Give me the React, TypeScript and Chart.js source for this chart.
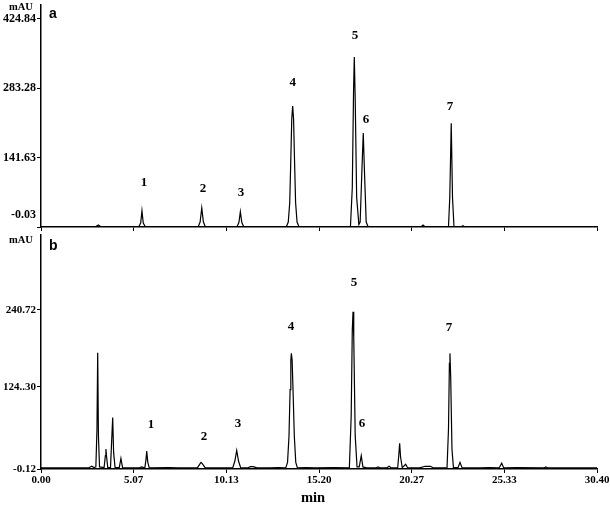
import React, { useEffect, useRef } from 'react';
import { Chart, registerables } from 'chart.js';

Chart.register(...registerables);

// ---- axis ticks ----
const xTicks = [0, 5.07, 10.13, 15.2, 20.27, 25.33, 30.4];
const xTickLabels = ['0.00', '5.07', '10.13', '15.20', '20.27', '25.33', '30.40'];
const yTicksA = [-0.03, 141.63, 283.28, 424.84];
const yTickLabelsA = ['-0.03', '141.63', '283.28', '424.84'];
const yTicksB = [-0.12, 124.3, 240.72];
const yTickLabelsB = ['-0.12', '124..30', '240.72'];

// ---- chromatogram a (standards) ----
const timesA = [
  0, 3.0, 3.13, 3.26,
  5.35, 5.45, 5.52, 5.59, 5.7,
  8.6, 8.7, 8.79, 8.88, 8.98,
  10.72, 10.82, 10.9, 10.98, 11.08,
  13.42, 13.52, 13.6, 13.66, 13.71, 13.76, 13.81, 13.86, 13.92, 14.0, 14.1,
  16.92, 17.02, 17.09, 17.13, 17.18, 17.26, 17.38,
  17.45, 17.55, 17.62, 17.68, 17.78, 17.88,
  20.8, 20.89, 20.98,
  22.28, 22.35, 22.43, 22.5, 22.58,
  23.0, 23.07, 23.14, 30.4,
];
const signalA = [
  1, 1, 4, 1,
  1, 8, 33, 8, 1,
  1, 10, 39, 10, 1,
  1, 9, 31, 9, 1,
  1, 10, 50, 140, 220, 247, 220, 140, 50, 10, 1,
  1, 80, 280, 347, 260, 60, 5,
  10, 120, 192, 120, 10, 1,
  1, 4, 1,
  1, 60, 212, 60, 1,
  1, 2.5, 1, 1,
];

// ---- chromatogram b (sample) ----
const timesB = [
  0, 2.6, 2.77, 2.9,
  3.0, 3.06, 3.1, 3.14, 3.2,
  3.45, 3.52, 3.55, 3.58, 3.65,
  3.8, 3.86, 3.92, 3.97, 4.05,
  4.28, 4.37, 4.46,
  5.0, 5.4, 5.51, 5.6,
  5.68, 5.74, 5.78, 5.84, 5.92,
  7.0, 7.5,
  8.55, 8.7, 8.75, 8.82, 8.98,
  10.48, 10.6, 10.7, 10.8, 10.92,
  11.3, 11.45, 11.6, 11.8,
  12.5, 13.0, 13.3,
  13.38, 13.48, 13.56, 13.62, 13.66, 13.69, 13.73, 13.78, 13.85, 13.93, 14.02,
  14.5, 15.0, 16.0,
  16.86, 16.96, 17.02, 17.06, 17.1, 17.18, 17.28,
  17.4, 17.51, 17.6,
  17.8, 18.3, 18.43, 18.55,
  18.9, 19.03, 19.16,
  19.5, 19.56, 19.61, 19.66, 19.75, 19.94, 20.05,
  20.7, 21.0, 21.3, 21.45,
  22.2, 22.28, 22.33, 22.36, 22.4, 22.47, 22.55,
  22.8, 22.91, 23.02,
  24.0, 24.5, 25.05, 25.19, 25.3,
  26.0, 27.5, 27.6, 27.7,
  28.5, 30.4,
];
const signalB = [
  1.5, 1.5, 4, 2,
  3, 60, 176, 50, 3,
  2, 20, 30, 20, 2,
  2, 40, 78, 25, 2,
  2, 16, 2,
  1.5, 2, 3, 2,
  2, 14, 27, 10, 1.5,
  2, 1.5,
  1.5, 8, 10, 8, 1.5,
  1.5, 12, 28, 12, 1.5,
  1.5, 3.5, 3.5, 1.5,
  1.5, 2, 1.5,
  1.5, 10, 50, 120, 165, 175, 165, 120, 50, 10, 1.5,
  2, 1.5, 2,
  1.5, 80, 210, 238, 200, 50, 3,
  3, 20, 3,
  1.5, 1.5, 3, 1.5,
  1.5, 4, 1.5,
  1.5, 20, 39, 18, 2, 7, 1.5,
  1.5, 4, 4, 1.5,
  1.5, 60, 160, 175, 140, 30, 2,
  2, 10, 2,
  1.5, 2, 1.5, 8.6, 1.5,
  2, 1.5, 3, 1.5,
  1.5, 1.5,
];

// ---- peak labels ----
const peakNames = ['1', '2', '3', '4', '5', '6', '7'];
const peakLabelTimesA = [5.63, 8.86, 10.94, 13.76, 17.17, 17.77, 22.36];
const peakLabelValuesA = [90, 77.6, 69.4, 294, 390, 218.5, 245];
const peakLabelTimesB = [6.01, 8.91, 10.77, 13.67, 17.12, 17.55, 22.31];
const peakLabelValuesB = [66.6, 48.5, 68.2, 215, 281.7, 68.2, 213.6];

const SERIF = '"Liberation Serif", "Times New Roman", serif';
const SANS = '"Liberation Sans", Arial, sans-serif';

type PanelSpec = {
  times: number[];
  signal: number[];
  yTicks: number[];
  yTickLabels: string[];
  yMin: number;
  yMax: number;
  yFontSize: number;
  labelTimes: number[];
  labelValues: number[];
  height: number;
  xAxisHeight: number;
  showXLabels: boolean;
  letter: string;
  letterY: number;
  mauY: number;
  showTitle: boolean;
};

function makeChart(canvas: HTMLCanvasElement, p: PanelSpec) {
  const plugin = {
    id: 'annot' + p.letter,
    afterDraw(chart: any) {
      const { ctx } = chart;
      const x = chart.scales.x;
      const y = chart.scales.y;
      ctx.save();
      ctx.fillStyle = '#000';
      ctx.textAlign = 'center';
      ctx.textBaseline = 'middle';
      ctx.font = 'bold 13px ' + SERIF;
      peakNames.forEach((n, i) => {
        ctx.fillText(n, x.getPixelForValue(p.labelTimes[i]), y.getPixelForValue(p.labelValues[i]));
      });
      ctx.font = 'bold 10.5px ' + SERIF;
      ctx.fillText('mAU', 21, p.mauY);
      ctx.textAlign = 'left';
      ctx.textBaseline = 'alphabetic';
      ctx.font = 'bold 14px ' + SANS;
      ctx.fillText(p.letter, 49, p.letterY);
      if (p.showTitle) {
        ctx.textAlign = 'center';
        ctx.textBaseline = 'middle';
        ctx.font = 'bold 14.5px ' + SERIF;
        ctx.fillText('min', 313, 268);
      }
      ctx.restore();
    },
  };

  return new Chart(canvas, {
    type: 'line',
    data: {
      datasets: [
        {
          data: p.times.map((t, i) => ({ x: t, y: p.signal[i] })),
          borderColor: '#000',
          borderWidth: 1.2,
          pointRadius: 0,
          tension: 0,
          fill: false,
        },
      ],
    },
    options: {
      responsive: false,
      animation: false,
      devicePixelRatio: 1,
      events: [],
      layout: { padding: { left: 0, right: 13, top: 5, bottom: 0 } },
      plugins: { legend: { display: false }, tooltip: { enabled: false } },
      scales: {
        x: {
          type: 'linear',
          min: 0,
          max: 30.4,
          border: { display: true, color: '#000', width: 1.5 },
          grid: { display: true, drawOnChartArea: false, drawTicks: true, tickLength: 4, color: '#000', lineWidth: 1 },
          ticks: {
            autoSkip: false,
            maxRotation: 0,
            padding: 1,
            color: '#000',
            font: { family: SERIF, size: 11, weight: 'bold' },
            callback: (_v: any, i: number) => (p.showXLabels ? xTickLabels[i] : ''),
          },
          afterBuildTicks: (s: any) => {
            s.ticks = xTicks.map((v) => ({ value: v }));
          },
          afterFit: (s: any) => {
            s.height = p.xAxisHeight;
            s.paddingLeft = 0;
            s.paddingRight = 0;
          },
        },
        y: {
          type: 'linear',
          min: p.yMin,
          max: p.yMax,
          border: { display: true, color: '#000', width: 1.5 },
          grid: { display: true, drawOnChartArea: false, drawTicks: true, tickLength: 4, color: '#000', lineWidth: 1 },
          ticks: {
            autoSkip: false,
            padding: 1,
            color: '#000',
            font: { family: SERIF, size: p.yFontSize, weight: 'bold', lineHeight: 1 },
            callback: (_v: any, i: number) =>
              p.letter === 'a' && i === 0 ? [p.yTickLabels[i], '', ''] : p.yTickLabels[i],
          },
          afterBuildTicks: (s: any) => {
            s.ticks = p.yTicks.map((v) => ({ value: v }));
          },
          afterFit: (s: any) => {
            s.width = 41;
            s.paddingTop = 0;
            s.paddingBottom = 0;
          },
        },
      },
    },
    plugins: [plugin],
  } as any);
}

const panelA: PanelSpec = {
  times: timesA,
  signal: signalA,
  yTicks: yTicksA,
  yTickLabels: yTickLabelsA,
  yMin: -0.03,
  yMax: 453.4,
  yFontSize: 12,
  labelTimes: peakLabelTimesA,
  labelValues: peakLabelValuesA,
  height: 232,
  xAxisHeight: 5,
  showXLabels: false,
  letter: 'a',
  letterY: 17.5,
  mauY: 7,
  showTitle: false,
};

const panelB: PanelSpec = {
  times: timesB,
  signal: signalB,
  yTicks: yTicksB,
  yTickLabels: yTickLabelsB,
  yMin: -0.12,
  yMax: 354.3,
  yFontSize: 11,
  labelTimes: peakLabelTimesB,
  labelValues: peakLabelValuesB,
  height: 275,
  xAxisHeight: 36,
  showXLabels: true,
  letter: 'b',
  letterY: 19.5,
  mauY: 10,
  showTitle: true,
};

export default function App() {
  const refA = useRef<HTMLCanvasElement>(null);
  const refB = useRef<HTMLCanvasElement>(null);

  useEffect(() => {
    const a = makeChart(refA.current!, panelA);
    const b = makeChart(refB.current!, panelB);
    return () => {
      a.destroy();
      b.destroy();
    };
  }, []);

  return (
    <div style={{ position: 'fixed', left: 0, top: 0, width: 610, height: 505, background: '#fff' }}>
      <canvas ref={refA} width={610} height={232} style={{ position: 'absolute', left: 0, top: 0, width: 610, height: 232 }} />
      <canvas ref={refB} width={610} height={275} style={{ position: 'absolute', left: 0, top: 230, width: 610, height: 275 }} />
    </div>
  );
}
